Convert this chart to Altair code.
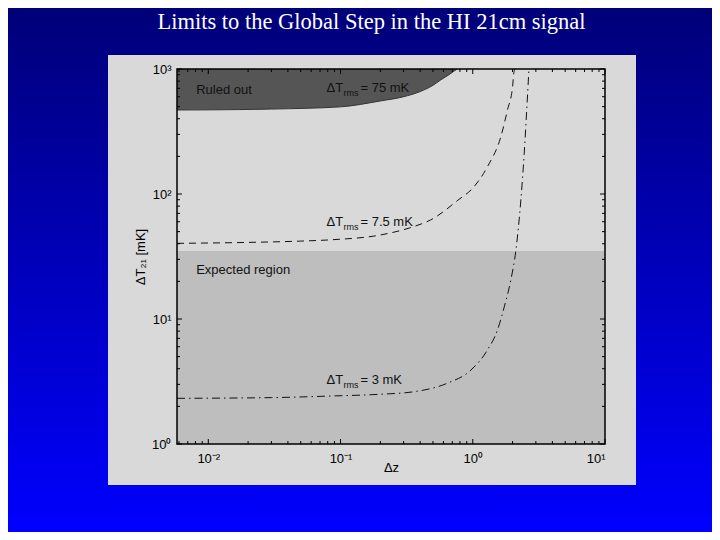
import altair as alt
import pandas as pd

# ---------------- data ----------------
dz_75 = [0.0058, 0.01, 0.03, 0.1, 0.2, 0.3, 0.4, 0.5, 0.57, 0.66, 0.76]
t_75 = [470, 471, 478, 498, 555, 600, 660, 740, 815, 900, 1000]

dz_7 = [0.0058, 0.02, 0.05, 0.084, 0.2, 0.36, 0.48, 0.77, 1.02, 1.29, 1.63, 1.83, 2.0, 2.05, 2.09]
t_7 = [40.3, 41, 42, 43, 47, 55, 62, 89, 114, 165, 287, 470, 722, 950, 1000]

dz_3 = [0.0058, 0.03, 0.084, 0.2, 0.36, 0.64, 0.97, 1.29, 1.54, 1.73, 1.94, 2.12, 2.31, 2.45, 2.6, 2.66]
t_3 = [2.32, 2.35, 2.42, 2.5, 2.62, 3.06, 3.91, 5.65, 8.2, 12.5, 20.5, 35.6, 89.5, 212, 640, 1000]

expected_top = 35  # mK, upper edge of "Expected region"

x_domain = [0.0058, 10]
y_domain = [1, 1000]

x_major = [0.01, 0.1, 1, 10]
x_major_labels = ["10\u207b\u00b2", "10\u207b\u00b9", "10\u2070", "10\u00b9"]
x_minor = [0.006, 0.007, 0.008, 0.009,
           0.02, 0.03, 0.04, 0.05, 0.06, 0.07, 0.08, 0.09,
           0.2, 0.3, 0.4, 0.5, 0.6, 0.7, 0.8, 0.9,
           2, 3, 4, 5, 6, 7, 8, 9]
y_major = [1, 10, 100, 1000]
y_major_labels = ["10\u2070", "10\u00b9", "10\u00b2", "10\u00b3"]
y_minor = [2, 3, 4, 5, 6, 7, 8, 9,
           20, 30, 40, 50, 60, 70, 80, 90,
           200, 300, 400, 500, 600, 700, 800, 900]

plain_labels = ["Ruled out", "Expected region"]
plain_x = [0.0081, 0.0081]
plain_y = [680, 24.7]

rms_main = ["\u0394T", "\u0394T", "\u0394T"]
rms_sub = ["rms", "rms", "rms"]
rms_rest = ["= 75 mK", "= 7.5 mK", "= 3 mK"]
rms_x = [0.0783, 0.0783, 0.0783]
rms_y = [705, 59.7, 3.25]

title_text = "Limits to the Global Step in the HI 21cm signal"
x_title = "\u0394z"
y_title = "\u0394T\u2082\u2081 [mK]"

# ---------------- layout ----------------
W, H = 428, 375
PAD_L, PAD_T = 169, 61
TOTAL_W, TOTAL_H = 704, 524
PAD_R = TOTAL_W - PAD_L - W
PAD_B = TOTAL_H - PAD_T - H
SANS = "Liberation Sans"


def label_expr(vals, labels):
    parts = [f"abs(datum.value - {v}) < {v * 1e-6} ? '{l}'" for v, l in zip(vals, labels)]
    return " : ".join(parts) + " : ''"


xscale = alt.Scale(type="log", domain=x_domain, nice=False)
yscale = alt.Scale(type="log", domain=y_domain, nice=False)

xaxis = alt.Axis(values=x_major, labelExpr=label_expr(x_major, x_major_labels),
                 ticks=False, domain=False, grid=False, labelFont=SANS, labelFontSize=13,
                 labelColor="black", labelPadding=8, title=x_title, titleFont=SANS,
                 titleFontSize=13, titleFontWeight="normal", titleColor="black",
                 titleX=W / 2, titleY=23, titleBaseline="middle", zindex=1)
yaxis = alt.Axis(values=y_major, labelExpr=label_expr(y_major, y_major_labels),
                 ticks=False, domain=False, grid=False, labelFont=SANS, labelFontSize=13,
                 labelColor="black", labelPadding=6, title=y_title, titleFont=SANS,
                 titleFontSize=13, titleFontWeight="normal", titleColor="black",
                 titleX=-37, titleY=H / 2, titleBaseline="middle", titleAngle=270, zindex=1)


def X(field):
    return alt.X(field, type="quantitative", scale=xscale, axis=xaxis)


def Y(field):
    return alt.Y(field, type="quantitative", scale=yscale, axis=yaxis)


one = pd.DataFrame({"a": [0]})

# background slide gradient
bg = alt.Chart(one).mark_rect(
    color=alt.Gradient(gradient="linear", x1=0, x2=0, y1=0, y2=1,
                       stops=[alt.GradientStop(color="#000078", offset=0),
                              alt.GradientStop(color="#0000ff", offset=1)])
).encode(x=alt.value(-PAD_L), x2=alt.value(W + PAD_R), y=alt.value(-PAD_T), y2=alt.value(H + PAD_B))

panel = alt.Chart(one).mark_rect(color="#d9d9d9").encode(
    x=alt.value(-69), x2=alt.value(459), y=alt.value(-14), y2=alt.value(416))

expected = alt.Chart(one).mark_rect(color="#bebebe").encode(
    x=alt.value(0), x2=alt.value(W),
    y=alt.Y(datum=expected_top, type="quantitative", scale=yscale, axis=yaxis),
    y2=alt.datum(1))

df75 = pd.DataFrame({"dz": dz_75, "t": t_75})
df7 = pd.DataFrame({"dz": dz_7, "t": t_7})
df3 = pd.DataFrame({"dz": dz_3, "t": t_3})

ruled = alt.Chart(df75).mark_area(color="#555555", opacity=1, interpolate="monotone",
                                  clip=True).encode(
    x=X("dz"), y=Y("t"), y2=alt.datum(1000))
ruled_edge = alt.Chart(df75).mark_line(color="#333333", strokeWidth=1, interpolate="monotone",
                                       clip=True).encode(x=X("dz"), y=Y("t"))

line7 = alt.Chart(df7).mark_line(color="#111111", strokeWidth=1, strokeDash=[7, 5],
                                 interpolate="monotone", clip=True).encode(x=X("dz"), y=Y("t"))
line3 = alt.Chart(df3).mark_line(color="#111111", strokeWidth=1, strokeDash=[8, 4, 1.5, 4],
                                 interpolate="monotone", clip=True).encode(x=X("dz"), y=Y("t"))

plain_df = pd.DataFrame({"x": plain_x, "y": plain_y, "txt": plain_labels})
plain_txt = alt.Chart(plain_df).mark_text(font=SANS, fontSize=13, color="#111111",
                                          align="left", baseline="middle").encode(
    x=X("x"), y=Y("y"), text="txt:N")

rms_df = pd.DataFrame({"x": rms_x, "y": rms_y, "m": rms_main, "s": rms_sub, "r": rms_rest})
rms_m = alt.Chart(rms_df).mark_text(font=SANS, fontSize=13, color="#111111",
                                    align="left", baseline="middle").encode(
    x=X("x"), y=Y("y"), text="m:N")
rms_s = alt.Chart(rms_df).mark_text(font=SANS, fontSize=9, color="#111111",
                                    align="left", baseline="middle", dx=17, dy=5).encode(
    x=X("x"), y=Y("y"), text="s:N")
rms_r = alt.Chart(rms_df).mark_text(font=SANS, fontSize=13, color="#111111",
                                    align="left", baseline="middle", dx=34).encode(
    x=X("x"), y=Y("y"), text="r:N")

# inward ticks on all four sides
xmaj = pd.DataFrame({"v": x_major})
xmin = pd.DataFrame({"v": x_minor})
ymaj = pd.DataFrame({"v": y_major})
ymin = pd.DataFrame({"v": y_minor})
tk = dict(color="black", strokeWidth=1)
ticks = [
    alt.Chart(xmaj).mark_rule(**tk).encode(x=X("v"), y=alt.value(H), y2=alt.value(H - 5)),
    alt.Chart(xmaj).mark_rule(**tk).encode(x=X("v"), y=alt.value(0), y2=alt.value(5)),
    alt.Chart(xmin).mark_rule(**tk).encode(x=X("v"), y=alt.value(H), y2=alt.value(H - 3)),
    alt.Chart(xmin).mark_rule(**tk).encode(x=X("v"), y=alt.value(0), y2=alt.value(3)),
    alt.Chart(ymaj).mark_rule(**tk).encode(y=Y("v"), x=alt.value(0), x2=alt.value(5)),
    alt.Chart(ymaj).mark_rule(**tk).encode(y=Y("v"), x=alt.value(W), x2=alt.value(W - 5)),
    alt.Chart(ymin).mark_rule(**tk).encode(y=Y("v"), x=alt.value(0), x2=alt.value(3)),
    alt.Chart(ymin).mark_rule(**tk).encode(y=Y("v"), x=alt.value(W), x2=alt.value(W - 3)),
]

box = alt.Chart(one).mark_rect(fillOpacity=0, stroke="black", strokeWidth=1.5).encode(
    x=alt.value(0), x2=alt.value(W), y=alt.value(0), y2=alt.value(H))

title = alt.Chart(one).mark_text(font="Liberation Serif", fontSize=22.5, color="white",
                                 align="center", baseline="middle").encode(
    x=alt.value(194.5), y=alt.value(-47.5), text=alt.value(title_text))

chart = alt.layer(bg, panel, expected, ruled, ruled_edge, line7, line3, plain_txt,
                  rms_m, rms_s, rms_r, *ticks, box, title).properties(
    width=W, height=H,
    autosize=alt.AutoSizeParams(type="none"),
    padding={"left": PAD_L, "top": PAD_T, "right": PAD_R, "bottom": PAD_B},
).configure_view(stroke=None).configure(background="#0000a0")

chart.save("out.html", embed_options={"renderer": "svg", "actions": False})
